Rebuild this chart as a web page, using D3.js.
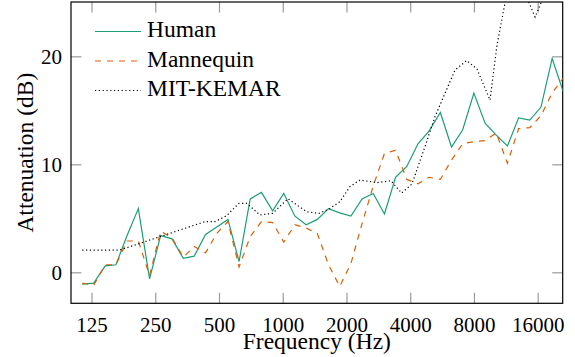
<!DOCTYPE html>
<html>
<head>
	<title>Attenuation vs Frequency</title>
	<script src="https://d3js.org/d3.v7.min.js"></script>
	<style>
		body { margin: 0; background: #fff; }
		svg text { font-family: 'Liberation Serif'; }
	</style>
</head>
<body>
	<div id="graph"></div>

	<script type="text/javascript">

//<------------------------------------DATA------------------------------------------------>
		// values: frequency in Hz, attenuation in dB
		var freqs = [113, 128, 145, 163, 184, 208, 235, 265, 300, 339, 382, 432, 488, 551, 622, 702,
			793, 896, 1011, 1142, 1290, 1457, 1645, 1858, 2098, 2369, 2676, 3022, 3412, 3854, 4352,
			4915, 5550, 6268, 7078, 7994, 9027, 10195, 11513, 13002, 14683, 16582, 18726, 21147];

		var human = [-1.1, -1.0, 0.6, 0.7, 3.4, 5.9, -0.6, 3.4, 3.1, 1.3, 1.5, 3.5, 4.2, 4.9, 1.0, 6.8,
			7.4, 5.7, 7.3, 5.2, 4.4, 4.9, 5.9, 5.5, 5.2, 6.8, 7.3, 5.4, 8.8, 9.8, 11.9,
			13.1, 14.8, 11.6, 13.2, 16.6, 13.8, 12.7, 11.7, 14.3, 14.1, 15.3, 19.8, 16.7];

		var mannequin = [-1.0, -1.2, 0.7, 0.7, 2.9, 2.9, -0.3, 3.8, 3.2, 1.4, 2.4, 1.8, 3.6, 4.7, 0.5, 3.3,
			4.7, 4.6, 2.8, 4.4, 4.1, 3.6, 0.7, -1.3, 0.8, 4.5, 8.0, 11.0, 11.3, 8.6, 8.2,
			8.8, 8.6, 10.4, 11.9, 12.1, 12.2, 12.9, 10.1, 13.3, 13.4, 14.5, 16.6, 18.0];

		var kemarFreqs = [113, 170, 429, 478, 543, 621, 677, 780, 896, 1058, 1297, 1482, 1653, 1862,
			2076, 2315, 2785, 3244, 3645, 4076, 4696, 5237, 5837, 6509, 7391, 8271, 9525, 10281,
			11213, 12500, 13790, 15550, 17900, 21100];

		var kemar = [2.06, 2.06, 4.69, 4.69, 5.24, 6.39, 6.39, 5.31, 5.46, 6.81, 5.61, 5.46, 5.86, 6.54,
			7.93, 8.55, 8.30, 8.48, 7.34, 8.18, 11.63, 14.41, 16.57, 18.73, 19.61, 18.82, 15.95, 21.05,
			24.94, 30, 26.05, 23.64, 26.5, 31];

		var xTicks = [125, 250, 500, 1000, 2000, 4000, 8000, 16000];
		var yTicks = [0, 10, 20];

		var seriesNames = ["Human", "Mannequin", "MIT-KEMAR"];

//<------------------------------------GRAPH----------------------------------------------->
		var width = 575;
		var height = 357;
		var plot = {left: 71, right: 562.7, top: 2, bottom: 303.3};
		var fontName = "Liberation Serif";

		var svg = d3.select("#graph")
			.append("svg")
				.attr("width", width)
				.attr("height", height)
				.attr("font-family", fontName);

		var xScale = d3.scaleLog().domain([100, 21000]).range([plot.left, plot.right]);
		var yScale = d3.scaleLinear().domain([-2.87, 25.03]).range([plot.bottom, plot.top]);

		svg.append("clipPath")
			.attr("id", "clip")
			.append("rect")
				.attr("x", plot.left)
				.attr("y", plot.top)
				.attr("width", plot.right - plot.left)
				.attr("height", plot.bottom - plot.top);

		// ticks point inwards on all four sides
		var tickLen = 10.5;
		var tickColor = "#9a9a9a";

		var xBottom = svg.append("g")
			.attr("transform", "translate(0," + plot.bottom + ")")
			.call(d3.axisBottom(xScale).tickValues(xTicks).tickFormat(d3.format("d"))
				.tickSizeInner(-tickLen).tickSizeOuter(0));
		xBottom.selectAll("text")
			.attr("y", 29).attr("dy", null);

		svg.append("g")
			.attr("transform", "translate(0," + plot.top + ")")
			.call(d3.axisTop(xScale).tickValues(xTicks).tickFormat("")
				.tickSizeInner(-tickLen).tickSizeOuter(0));

		var yLeft = svg.append("g")
			.attr("transform", "translate(" + plot.left + ",0)")
			.call(d3.axisLeft(yScale).tickValues(yTicks)
				.tickSizeInner(-tickLen).tickSizeOuter(0));
		yLeft.selectAll("text")
			.attr("x", -9).attr("dy", "0.34em");

		svg.append("g")
			.attr("transform", "translate(" + plot.right + ",0)")
			.call(d3.axisRight(yScale).tickValues(yTicks).tickFormat("")
				.tickSizeInner(-tickLen).tickSizeOuter(0));

		svg.selectAll(".domain").remove();
		svg.selectAll("g").attr("font-family", fontName).attr("font-size", null);
		svg.selectAll(".tick line")
			.attr("stroke", tickColor)
			.attr("stroke-width", 1.2);
		svg.selectAll(".tick text")
			.attr("fill", "#000")
			.attr("font-family", fontName)
			.attr("font-size", 21);

		// frame
		svg.append("rect")
			.attr("x", plot.left)
			.attr("y", plot.top)
			.attr("width", plot.right - plot.left)
			.attr("height", plot.bottom - plot.top)
			.style("fill", "none")
			.style("stroke", "#000")
			.style("stroke-width", 1.2);

		// axis titles
		svg.append("text")
			.attr("x", (plot.left + plot.right) / 2)
			.attr("y", 349)
			.attr("text-anchor", "middle")
			.attr("font-family", fontName)
			.attr("font-size", 23.5)
			.text("Frequency (Hz)");

		svg.append("text")
			.attr("transform", "translate(33," + ((plot.top + plot.bottom) / 2) + ") rotate(-90)")
			.attr("text-anchor", "middle")
			.attr("font-family", fontName)
			.attr("font-size", 23.5)
			.text("Attenuation (dB)");

//<------------------------------------LINES----------------------------------------------->
		var styles = [
			{color: "#1b9e77", dash: null},
			{color: "#d95f02", dash: "6,6"},
			{color: "#000000", dash: "1.2,2.6"}
		];

		function series(fs, vs) {
			return fs.map(function(f, i) { return {f: f, v: vs[i]}; });
		}

		var data = [series(freqs, human), series(freqs, mannequin), series(kemarFreqs, kemar)];

		var line = d3.line()
			.x(function(d) { return xScale(d.f); })
			.y(function(d) { return yScale(d.v); });

		var lines = svg.append("g").attr("clip-path", "url(#clip)");
		for (var i = 0; i < data.length; i++) {
			lines.append("path")
				.datum(data[i])
				.attr("d", line)
				.style("fill", "none")
				.style("stroke", styles[i].color)
				.style("stroke-width", 1.2)
				.style("stroke-dasharray", styles[i].dash);
		}

//<------------------------------------LEGEND---------------------------------------------->
		var legendY = [31.5, 61, 90.5];
		for (var j = 0; j < seriesNames.length; j++) {
			svg.append("line")
				.attr("x1", 95).attr("x2", 141)
				.attr("y1", legendY[j]).attr("y2", legendY[j])
				.style("stroke", styles[j].color)
				.style("stroke-width", 1.2)
				.style("stroke-dasharray", styles[j].dash);
			svg.append("text")
				.attr("x", 147)
				.attr("y", legendY[j] + 5.5)
				.attr("font-family", fontName)
				.attr("font-size", 23.5)
				.text(seriesNames[j]);
		}

	</script>
</body>
</html>
